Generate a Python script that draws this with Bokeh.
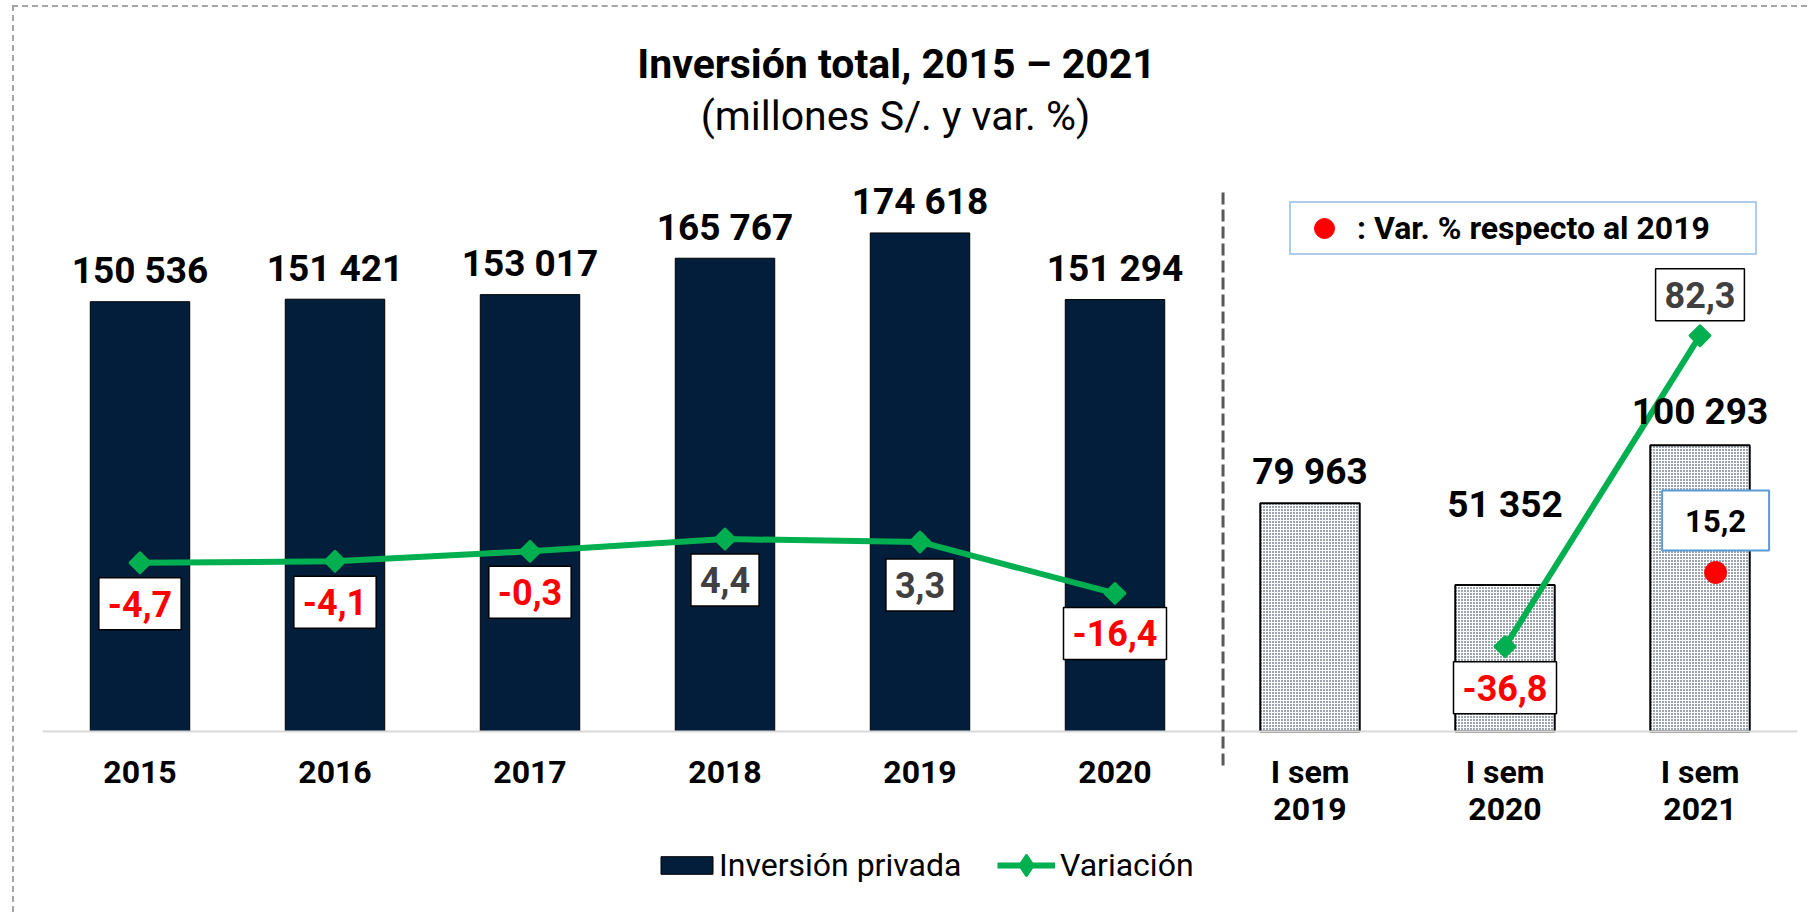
import numpy as np
from bokeh.plotting import figure
from bokeh.models import (ColumnDataSource, FactorRange, Range1d, LabelSet, Label, Legend,
                          LegendItem, Arrow, Span)
from bokeh.core.properties import value
from bokeh.embed import file_html
from bokeh.resources import INLINE

# ---------------- data ----------------
title_text = "Inversión total, 2015 – 2021"
subtitle_text = "(millones S/. y var. %)"
categories = ["2015", "2016", "2017", "2018", "2019", "2020",
              "I sem 2019", "I sem 2020", "I sem 2021"]
inversion = [150536, 151421, 153017, 165767, 174618, 151294, 79963, 51352, 100293]
variacion = [-4.7, -4.1, -0.3, 4.4, 3.3, -16.4, None, -36.8, 82.3]
annual_categories = categories[:6]
semester_categories = categories[6:]
comparison_category = "I sem 2021"
comparison_2019 = 15.2

# ---------------- style / layout ----------------
FONT = "Roboto"
NAVY = "#021E3A"
GREEN = "#00B050"
RED = "#FF0000"
GREY_TXT = "#404040"
BLUE_BOX = "#5B9BD5"

FIG_W, FIG_H = 1795, 907
BASE_PX = 724            # distance of the zero line from the frame top (px)
BAR_PX = 571             # px spanned by Y_REF
Y_REF = 200000
K = Y_REF / BAR_PX       # units per px, primary axis
VAR_K = 1 / 2.611        # units per px, variation axis
VAR_AT_BASE = -69.3
CMP_K = 54.6 / BAR_PX    # units per px, comparison axis
below_px = FIG_H - BASE_PX

value_label_offsets = [31, 31, 31, 31, 31, 31, 32, 80, 34]   # px above bar top
pct_label_offsets = [41, 41, 41, 41, 43, 40, 0, 41, -41]       # px below point (screen)


def fmt_thousands(v):
    return f"{v:,}".replace(",", " ")


def fmt_pct(v):
    return f"{v:.1f}".replace(".", ",")


p = figure(width=FIG_W, height=FIG_H, title=None,
           x_range=FactorRange(factors=categories, range_padding=0),
           y_range=Range1d(-below_px * K, BASE_PX * K),
           output_backend="svg", toolbar_location=None,
           x_axis_location=None, y_axis_location=None,
           min_border_left=28, min_border_right=12, min_border_top=0, min_border_bottom=0,
           outline_line_color=None, background_fill_color="white", border_fill_color="white")
p.extra_y_ranges = {
    "var": Range1d(VAR_AT_BASE - below_px * VAR_K, VAR_AT_BASE + BASE_PX * VAR_K),
    "cmp": Range1d(-below_px * CMP_K, BASE_PX * CMP_K),
}
p.xgrid.visible = False
p.ygrid.visible = False
p.styles = {"margin-left": "12px", "margin-top": "5px",
            "border-top": "2px dashed #a6a6a6", "border-left": "2px dashed #a6a6a6"}

# titles
p.add_layout(Label(x=854, y=FIG_H - 56, x_units="screen", y_units="screen", text=title_text,
                   text_align="center", text_baseline="middle", text_font=FONT,
                   text_font_size="41px", text_font_style="bold", text_color="#000000"))
p.add_layout(Label(x=853, y=FIG_H - 108, x_units="screen", y_units="screen",
                   text=subtitle_text, text_align="center", text_baseline="middle",
                   text_font=FONT, text_font_size="41px", text_font_style="normal",
                   text_color="#000000"))

# baseline (category axis line)
p.add_layout(Span(location=0, dimension="width", line_color="#d9d9d9", line_width=2))

# bars
n_ann = len(annual_categories)
src_ann = ColumnDataSource(dict(x=annual_categories, top=inversion[:n_ann]))
src_sem = ColumnDataSource(dict(x=semester_categories, top=inversion[n_ann:]))
bars = p.vbar(x="x", top="top", width=0.51, source=src_ann,
              fill_color=NAVY, line_color="#000000", line_width=1)
p.vbar(x="x", top="top", width=0.51, source=src_sem, fill_color="white",
       line_color="#000000", line_width=2, hatch_pattern="dot",
       hatch_color=NAVY, hatch_scale=3, hatch_weight=3)

# variation line
var_arr = np.array([np.nan if v is None else v for v in variacion], dtype=float)
src_var = ColumnDataSource(dict(x=categories, y=var_arr))
ln = p.line("x", "y", source=src_var, y_range_name="var", line_color=GREEN, line_width=6)
mk = p.scatter("x", "y", source=src_var, y_range_name="var", marker="square", size=14,
               angle=np.pi / 4, fill_color=GREEN, line_color=GREEN, line_width=3,
               line_join="round")
# diamond used only for the legend swatch (its single point is NaN, so not drawn)
mk_leg = p.scatter(x=[categories[0]], y=[np.nan], y_range_name="var", marker="diamond",
                   size=20, fill_color=GREEN, line_color=GREEN, line_width=3,
                   line_join="round")

# divider between annual and semester panels
div_x = n_ann + 0.054
p.add_layout(Arrow(end=None, x_start=div_x, y_start=539 * K, x_end=div_x,
                   y_end=-37 * K, line_color="#595959", line_width=3, line_dash="12 5"))

# category labels (two rows)
row1 = [c if not c.startswith("I sem") else "I sem" for c in categories]
row2 = [c.split()[-1] if c.startswith("I sem") else "" for c in categories]
src_ticks = ColumnDataSource(dict(x=categories, y=[0] * len(categories), r1=row1, r2=row2))
for col, off in (("r1", -40), ("r2", -77)):
    p.add_layout(LabelSet(x="x", y="y", text=col, source=src_ticks, y_offset=off,
                          text_align="center", text_baseline="middle",
                          text_font=value(FONT), text_font_size="32px",
                          text_font_style="bold", text_color="#000000"))

# value labels
src_vals = ColumnDataSource(dict(x=categories, y=inversion,
                                 text=[fmt_thousands(v) for v in inversion],
                                 off=value_label_offsets))
p.add_layout(LabelSet(x="x", y="y", text="text", source=src_vals, y_offset="off",
                      text_align="center", text_baseline="middle",
                      text_font=value(FONT), text_font_size="37px",
                      text_font_style="bold", text_color="#000000"))

# percent labels (boxed)
idx = [i for i, v in enumerate(variacion) if v is not None]
src_pct = ColumnDataSource(dict(
    x=[categories[i] for i in idx],
    y=[variacion[i] for i in idx],
    text=[fmt_pct(variacion[i]) for i in idx],
    tcol=[RED if variacion[i] < 0 else GREY_TXT for i in idx],
    off=[pct_label_offsets[i] for i in idx]))
p.text(x="x", y="y", text="text", source=src_pct, y_range_name="var",
       y_offset="off", text_align="center", text_baseline="middle",
       text_font=value(FONT), text_font_size="36px", text_font_style="bold",
       text_color="tcol", background_fill_color="white",
       border_line_color="#000000", border_line_width=1.5,
       padding=dict(top=13, bottom=13, left=9, right=9))

# comparison with 2019 (red dot)
src_dot = ColumnDataSource(dict(x=[(comparison_category, 0.08)], y=[comparison_2019],
                                text=[fmt_pct(comparison_2019)]))
dot = p.scatter("x", "y", source=src_dot, y_range_name="cmp", marker="circle", size=22,
                fill_color=RED, line_color=RED)
p.text(x="x", y="y", text="text", source=src_dot, y_range_name="cmp",
       y_offset=-52, text_align="center", text_baseline="middle",
       text_font=value(FONT), text_font_size="31px", text_font_style="bold",
       text_color="#000000", background_fill_color="white",
       border_line_color=BLUE_BOX, border_line_width=2,
       padding=dict(top=19, bottom=19, left=23, right=23))

# legends
leg_dot = Legend(items=[LegendItem(label=": Var. % respecto al 2019", renderers=[dot])],
                 location=(1247, FIG_H - 248), glyph_width=66, glyph_height=50,
                 label_standoff=0, label_width=398, padding=0, margin=0,
                 border_line_color=BLUE_BOX, border_line_width=2,
                 background_fill_color="white", background_fill_alpha=1,
                 label_text_font=FONT, label_text_font_size="32px",
                 label_text_font_style="bold", label_text_color="#000000")
leg_bar = Legend(items=[LegendItem(label="Inversión privada", renderers=[bars])],
                 location=(612, 30), glyph_width=65, glyph_height=22, label_standoff=0,
                 padding=0, margin=0, border_line_color=None, background_fill_alpha=0,
                 label_text_font=FONT, label_text_font_size="32px",
                 label_text_color="#000000")
leg_var = Legend(items=[LegendItem(label="Variación", renderers=[ln, mk_leg])],
                 location=(955, 24), glyph_width=58, glyph_height=50, label_standoff=5,
                 padding=0, margin=0, border_line_color=None, background_fill_alpha=0,
                 label_text_font=FONT, label_text_font_size="32px",
                 label_text_color="#000000")
for lg in (leg_dot, leg_bar, leg_var):
    p.add_layout(lg)

open("out.html", "w").write(file_html(p, INLINE))
